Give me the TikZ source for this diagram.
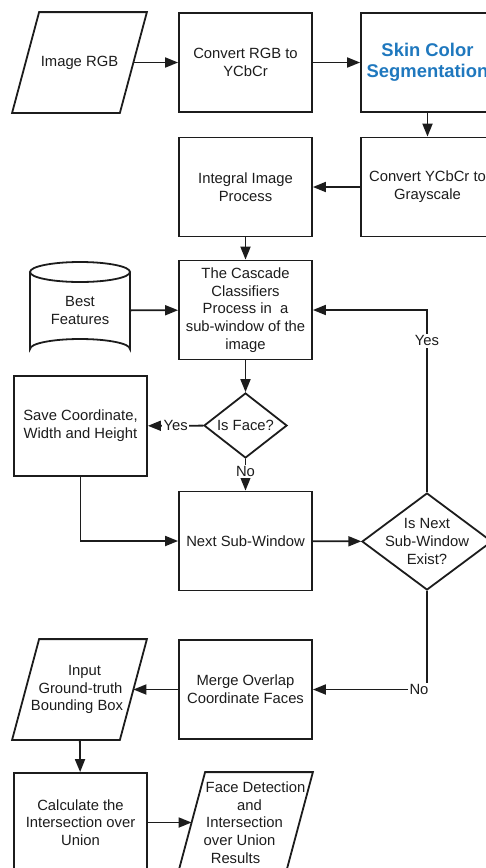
\documentclass[tikz,border=0pt]{standalone}
\usepackage{fontspec}
\setmainfont{Liberation Sans}
\usetikzlibrary{shapes.geometric,arrows.meta}
\definecolor{inkc}{HTML}{1C1C1C}
\definecolor{skinblue}{HTML}{1F78BE}
% outline of a slanted input/output box around an invisible node
\newcommand\drawpara[1]{%
  \draw[line] ([xshift=13.5pt]#1.north west) -- ([xshift=13.5pt]#1.north east)
    -- ([xshift=-13.5pt]#1.south east) -- ([xshift=-13.5pt]#1.south west) -- cycle;}
% a text line moved sideways by #1 without changing its width
\newcommand\slantline[2]{\kern#1#2\kern-#1}
\begin{document}
\begin{tikzpicture}[x=1pt,y=-1pt,
  every node/.style={font=\fontsize{14.8pt}{17.7pt}\selectfont, text=inkc, align=center, inner sep=0pt},
  line/.style={draw=inkc, line width=1.8pt},
  proc/.style={line, rectangle, minimum width=133pt, minimum height=99pt},
  io/.style={rectangle, minimum width=106pt, minimum height=99pt, outer sep=0.9pt},
  decision/.style={line, diamond, inner sep=0pt},
  arr/.style={line, -{Triangle[length=13pt,width=10pt]}},
  lbl/.style={fill=white, inner sep=1.5pt}
]
\useasboundingbox (0,0) rectangle (486,868);
\clip (0,0) rectangle (486,868);

% first row
\node[io]   (rgb)  at (79.5,62.5)  {Image RGB};
\drawpara{rgb}
\node[proc] (conv) at (245.5,62.5) {Convert RGB to\\YCbCr};
\node[proc, font=\bfseries\fontsize{18.4pt}{21pt}\selectfont, text=skinblue]
            (skin) at (427.5,62.5) {Skin Color\\Segmentation};

% second row
\node[proc] (integral) at (245.5,187) {Integral Image\\Process};
\node[proc] (gray)     at (427.5,187) {Convert YCbCr to\\Grayscale};

% cascade stage with the feature store
\node[proc] (cascade) at (245.5,310) {The Cascade\\Classifiers\\Process in~ a\\sub-window of the\\image};
\node[minimum width=100pt, minimum height=97pt] (best) at (80,310.5) {Best\\Features};
\draw[line] (80,272) ellipse [x radius=50, y radius=10];
\draw[line] (30,272) -- (30,349) arc[start angle=180, end angle=360, x radius=50, y radius=10] -- (130,272);

% face test
\node[decision, minimum width=83pt, minimum height=65pt] (face) at (245.5,425.5) {};
\node at (face) {Is Face?};
\node[proc, minimum height=100pt] (save) at (80.5,426) {Save Coordinate,\\Width and Height};

% sub-window loop
\node[proc] (next) at (245.5,541) {Next Sub-Window};
\node[decision, minimum width=130pt, minimum height=97pt] (exist) at (427,541.5) {};
\node at (exist) {Is Next\\Sub-Window\\Exist?};

% merging and evaluation (lines in slanted boxes follow the slant)
\node[proc] (merge)  at (245.5,689.5) {Merge Overlap\\Coordinate Faces};
\node[io]   (input)  at (79.5,689.5)
  {\slantline{5pt}{Input}\\\slantline{1pt}{Ground-truth}\\\slantline{-2.5pt}{Bounding Box}};
\drawpara{input}
\node[proc] (calc)   at (80.5,822.5)  {Calculate the\\Intersection over\\Union};
\node[io]   (result) at (245.5,822.5)
  {\slantline{10pt}{Face Detection}\\\slantline{4pt}{and}\\\slantline{-1pt}{Intersection}\\
   \slantline{-6pt}{over Union}\\\slantline{-10pt}{Results}};
\drawpara{result}

% connectors
\draw[arr] (rgb) -- (conv);
\draw[arr] (conv) -- (skin);
\draw[arr] (skin) -- (gray);
\draw[arr] (gray) -- (integral);
\draw[arr] (integral) -- (cascade);
\draw[arr] (best) -- (cascade);
\draw[arr] (cascade) -- (face);
\draw[arr] (face) -- node[lbl]{Yes} (save);
\draw[arr] (face) -- node[lbl, pos=0.4]{No} (next);
\draw[arr] (save.south) |- (next.west);
\draw[arr] (next) -- (exist);
\draw[arr] (exist.north) |- node[lbl, pos=0.415]{Yes} (cascade.east);
\draw[arr] (exist.south) |- node[lbl, pos=0.5, xshift=-8pt]{No} (merge.east);
\draw[arr] (merge) -- (input);
\draw[arr] (input) -- (calc);
\draw[arr] (calc) -- (result);
\end{tikzpicture}
\end{document}
